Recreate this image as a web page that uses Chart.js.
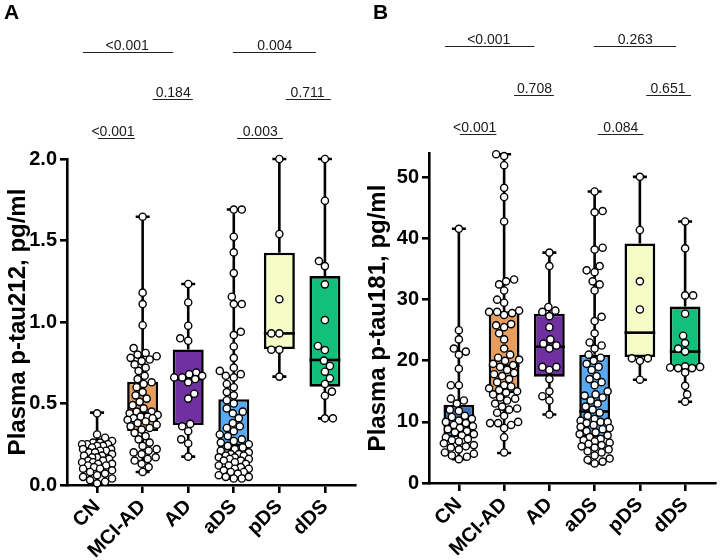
<!DOCTYPE html>
<html><head><meta charset="utf-8">
<script src="https://cdn.jsdelivr.net/npm/chart.js@4.4.1/dist/chart.umd.min.js"></script>
<style>
html,body{margin:0;padding:0;background:#fff;}
#wrap{position:relative;width:720px;height:560px;overflow:hidden;background:#fff;}
.p{position:absolute;top:0;width:360px;height:560px;}
</style></head>
<body>
<div id="wrap">
  <div class="p" style="left:0"><canvas id="cA" width="360" height="560"></canvas></div>
  <div class="p" style="left:360px"><canvas id="cB" width="360" height="560"></canvas></div>
</div>
<script>
// ---------- DATA ----------
const categories = ['CN','MCI-AD','AD','aDS','pDS','dDS'];

// Panel A: plasma p-tau212 (pg/ml), individual points
const tau212_CN = [0.44,0.31,0.29,0.27,0.26,0.26,0.25,0.25,0.25,0.24,0.24,0.23,0.22,0.22,0.21,0.21,0.20,0.20,0.19,0.18,0.18,0.17,0.17,0.16,0.15,0.15,0.14,0.14,0.13,0.13,0.12,0.12,0.11,0.10,0.10,0.09,0.08,0.07,0.06,0.05,0.04,0.03,0.02,0.01];
const tau212_MCI = [1.646,1.18,1.11,0.98,0.84,0.81,0.80,0.79,0.78,0.77,0.76,0.74,0.72,0.70,0.67,0.65,0.63,0.62,0.60,0.57,0.55,0.53,0.51,0.49,0.47,0.45,0.45,0.44,0.43,0.42,0.42,0.41,0.41,0.40,0.39,0.38,0.37,0.36,0.35,0.34,0.32,0.30,0.28,0.26,0.24,0.22,0.21,0.20,0.19,0.17,0.16,0.15,0.13,0.11,0.08];
const tau212_AD = [1.233,1.12,0.977,0.90,0.885,0.69,0.68,0.67,0.66,0.66,0.65,0.63,0.56,0.53,0.375,0.36,0.33,0.28,0.255,0.174];
const tau212_aDS = [1.69,1.69,1.523,1.427,1.30,1.155,1.11,1.11,0.94,0.92,0.85,0.78,0.72,0.70,0.68,0.67,0.66,0.62,0.60,0.57,0.55,0.52,0.50,0.47,0.45,0.44,0.41,0.38,0.36,0.35,0.33,0.31,0.30,0.28,0.27,0.26,0.25,0.24,0.23,0.22,0.21,0.20,0.19,0.19,0.18,0.18,0.17,0.17,0.16,0.16,0.15,0.15,0.14,0.13,0.12,0.12,0.11,0.10,0.10,0.09,0.08,0.08,0.07,0.06,0.05,0.05,0.04,0.04];
const tau212_pDS = [2.0,1.54,1.14,0.93,0.93,0.83,0.83,0.665];
const tau212_dDS = [2.0,1.744,1.374,1.343,1.231,1.012,0.853,0.828,0.763,0.73,0.695,0.655,0.62,0.573,0.548,0.409,0.409];

// Panel A box statistics
const tau212_min    = [0.01, 0.08, 0.174, 0.04, 0.665, 0.409];
const tau212_q1     = [0.13, 0.331, 0.368, 0.21, 0.834, 0.603];
const tau212_median = [0.20, 0.44, 0.65, 0.245, 0.93, 0.767];
const tau212_q3     = [0.24, 0.634, 0.832, 0.526, 1.425, 1.282];
const tau212_max    = [0.444, 1.646, 1.233, 1.69, 2.0, 2.0];

// Panel B: plasma p-tau181 (pg/ml), individual points
const tau181_CN = [41.6,25.0,23.5,22.0,21.5,21.0,18.7,16.0,16.0,13.8,13.5,13.0,12.0,11.8,11.0,10.8,10.5,10.2,10.0,9.8,9.5,9.3,9.0,8.8,8.5,8.3,8.0,7.8,7.5,7.2,7.0,6.8,6.5,6.2,6.0,5.8,5.5,5.0,4.8,4.5,4.3,3.9];
const tau181_MCI = [53.8,53.5,52.0,48.3,46.8,42.8,33.3,33.0,32.5,31.5,30.0,29.5,28.2,28.0,28.0,27.8,27.5,26.0,25.8,25.5,24.5,23.5,22.0,21.0,20.5,20.2,20.0,19.5,19.3,19.0,18.5,18.0,17.8,17.5,17.0,16.5,16.0,15.8,15.5,15.2,15.0,14.8,14.5,14.0,13.8,13.5,13.0,12.5,12.2,12.0,11.5,11.0,10.0,9.8,9.8,9.5,9.0,7.5,5.0];
const tau181_AD = [37.7,35.5,28.8,28.2,28.0,27.3,25.5,23.5,22.8,22.5,22.0,19.0,19.0,18.5,17.0,15.0,14.2,13.5,11.2];
const tau181_aDS = [47.7,44.5,44.3,38.5,38.2,35.5,34.8,34.5,33.0,32.5,31.5,27.2,26.5,24.5,23.0,22.5,22.0,21.0,20.5,20.0,19.5,19.0,18.5,17.5,17.0,16.5,16.0,15.0,14.5,14.3,14.0,13.5,13.0,12.5,12.0,11.5,11.0,10.5,10.2,10.0,10.0,9.8,9.5,9.2,9.0,8.8,8.5,8.3,8.0,7.8,7.5,7.2,7.0,6.8,6.6,6.4,6.2,6.0,5.8,5.5,5.2,5.0,4.5,4.0,3.8,3.5,3.2];
const tau181_pDS = [50.1,41.4,33.0,28.4,20.4,20.0,20.4,16.9];
const tau181_dDS = [42.8,38.4,30.7,30.7,27.7,24.1,22.9,22.0,21.5,19.1,19.0,18.9,18.8,18.8,18.1,15.9,14.5,13.3];

// Panel B box statistics
const tau181_min    = [3.9, 4.9, 11.2, 3.2, 16.9, 13.3];
const tau181_q1     = [7.5, 14.7, 17.4, 7.5, 20.6, 18.9];
const tau181_median = [9.5, 19.2, 22.3, 11.7, 24.6, 21.5];
const tau181_q3     = [12.8, 28.1, 27.7, 21.0, 39.2, 28.9];
const tau181_max    = [41.6, 53.8, 37.7, 47.7, 50.1, 42.8];

// p-value labels (top row, middle row, bottom row; left then right)
const pValuesA = ['<0.001','0.004','0.184','0.711','<0.001','0.003'];
const pValuesB = ['<0.001','0.263','0.708','0.651','<0.001','0.084'];

// ---------- STYLE / LAYOUT ----------
const FONT = "'Liberation Sans', Arial, Helvetica, sans-serif";
const colorsA = ['#3a7fd0','#e69d5e','#7030a0','#58a9f3','#f5fcc6','#12c07c'];
const colorsB = ['#3b6fb6','#e69d5e','#7030a0','#58a9f3','#f5fcc6','#12c07c'];

// bracket geometry in category units
const bracketFrom = [-0.31, 2.98, 1.22, 4.14, 0.02, 3.07];
const bracketTo   = [ 1.67, 4.80, 2.10, 5.13, 0.83, 4.08];
const bracketText = [ 0.66, 3.90, 1.67, 4.62, 0.35, 3.58];
const bracketRow  = [0,0,1,1,2,2];

// deterministic beeswarm in pixel space
function swarm(pys, d, cap){
  const idx = pys.map((_,i)=>i).sort((a,b)=>pys[b]-pys[a]);
  const placed=[]; const out=new Array(pys.length).fill(0);
  idx.forEach((i,n)=>{
    const py=pys[i];
    const near=placed.filter(p=>Math.abs(p.y-py)<d);
    let best=0, bestScore=-1;
    const sgn = (n%2)?1:-1;
    for(let s=0;s<=cap*2;s++){
      const c = s===0?0:sgn*(s%2?1:-1)*Math.ceil(s/2);
      let md=Infinity;
      near.forEach(p=>{const dd=Math.hypot(p.x-c,p.y-py); if(dd<md) md=dd;});
      if(md>=d){best=c;bestScore=Infinity;break;}
      if(md>bestScore+0.3){bestScore=md;best=c;}
    }
    out[i]=best; placed.push({x:best,y:py});
  });
  return out;
}

const boxPlugin = {
  id:'boxes',
  beforeDatasetsDraw(chart){
    const o = chart.options.plugins.boxes;
    const {ctx, scales:{x,y}} = chart;
    ctx.save(); ctx.strokeStyle='#000'; ctx.lineWidth=2.6; ctx.lineCap='butt';
    o.min.forEach((mn,i)=>{
      const px=x.getPixelForValue(i);
      const yMin=y.getPixelForValue(mn), yQ1=y.getPixelForValue(o.q1[i]),
            yQ3=y.getPixelForValue(o.q3[i]), yMax=y.getPixelForValue(o.max[i]);
      ctx.beginPath();
      ctx.moveTo(px,yMin); ctx.lineTo(px,yQ1);
      ctx.moveTo(px,yQ3); ctx.lineTo(px,yMax);
      ctx.moveTo(px-7,yMin); ctx.lineTo(px+7,yMin);
      ctx.moveTo(px-7,yMax); ctx.lineTo(px+7,yMax);
      ctx.stroke();
    });
    ctx.restore();
  },
  beforeDatasetDraw(chart,args){
    if(args.index!==0) return;
    const o = chart.options.plugins.boxes;
    const {ctx, scales:{y}} = chart;
    const bars = chart.getDatasetMeta(1).data;
    ctx.save(); ctx.strokeStyle='#000'; ctx.lineWidth=2.6;
    o.median.forEach((m,i)=>{
      const el=bars[i]; const py=y.getPixelForValue(m);
      ctx.beginPath(); ctx.moveTo(el.x-el.width/2,py); ctx.lineTo(el.x+el.width/2,py); ctx.stroke();
    });
    ctx.restore();
  },
  afterDraw(chart){
    const o = chart.options.plugins.boxes;
    const {ctx, scales:{x}} = chart;
    ctx.save();
    ctx.fillStyle='#000'; ctx.font='bold 21px '+FONT; ctx.textAlign='left'; ctx.textBaseline='alphabetic';
    ctx.fillText(o.letter, o.letterX, 19);
    ctx.font='14px '+FONT; ctx.fillStyle='#1a1a1a'; ctx.textAlign='center';
    ctx.strokeStyle='#222'; ctx.lineWidth=1.1;
    o.labels.forEach((t,k)=>{
      const row=o.rows[bracketRow[k]];
      const x1=x.getPixelForValue(bracketFrom[k]), x2=x.getPixelForValue(bracketTo[k]);
      ctx.beginPath(); ctx.moveTo(x1,row+0.5); ctx.lineTo(x2,row+0.5); ctx.stroke();
      ctx.fillText(t, x.getPixelForValue(bracketText[k]), row-2);
    });
    ctx.restore();
  }
};

function makeChart(id, groups, stats, colors, cfg){
  const pts=[]; groups.forEach((g,i)=>g.forEach(v=>pts.push({x:i,y:v})));
  const chart = new Chart(document.getElementById(id), {
    type:'bar',
    data:{datasets:[
      {type:'scatter', data:pts, order:0, pointRadius:3.6, pointHoverRadius:3.6,
       backgroundColor:'#fff', borderColor:'#000', borderWidth:1.4, clip:false},
      {type:'bar', data:stats.q1.map((q,i)=>({x:i, y:[q, stats.q3[i]]})), order:1,
       backgroundColor:colors, borderColor:'#000', borderWidth:2.6, borderSkipped:false,
       categoryPercentage:1, barPercentage:0.68}
    ]},
    options:{
      responsive:false, animation:false, events:[],
      layout:{padding:{top:cfg.top, right:cfg.right, left:0, bottom:0}},
      plugins:{legend:{display:false}, tooltip:{enabled:false},
        boxes:{min:stats.min,q1:stats.q1,median:stats.median,q3:stats.q3,max:stats.max,
               labels:cfg.labels, rows:cfg.rows, letter:cfg.letter, letterX:cfg.letterX}},
      scales:{
        x:{type:'linear', min:-0.66, max:5.66, offset:false,
           afterBuildTicks:(s)=>{s.ticks=categories.map((c,i)=>({value:i}));},
           afterFit:(s)=>{s.height=cfg.xh;},
           border:{display:true,color:'#000',width:2.6},
           grid:{display:true,offset:false,drawOnChartArea:false,drawTicks:true,tickLength:8,color:'#000',lineWidth:2.6},
           ticks:{autoSkip:false,maxRotation:45,minRotation:45,padding:2,color:'#000',
                  font:{family:FONT,size:20,weight:'bold'},
                  callback:(v)=>categories[v]}},
        y:{type:'linear', min:0, max:cfg.ymax,
           afterFit:(s)=>{s.width=cfg.yw;},
           border:{display:true,color:'#000',width:2.6},
           grid:{display:true,drawOnChartArea:false,drawTicks:true,tickLength:7,color:'#000',lineWidth:2.6},
           ticks:{stepSize:cfg.step,includeBounds:false,padding:3,color:'#000',
                  font:{family:FONT,size:20,weight:'bold'},
                  callback:cfg.fmt},
           title:{display:true,text:cfg.title,color:'#000',padding:{top:4,bottom:2},
                  font:{family:FONT,size:24,weight:'bold'}}}
      }
    },
    plugins:[boxPlugin]
  });
  // beeswarm spread of points computed through the chart's own scales
  const xs=chart.scales.x, ys=chart.scales.y; const out=[];
  groups.forEach((g,i)=>{
    const pys=g.map(v=>ys.getPixelForValue(v));
    const dx=swarm(pys, 7.5, 15);
    const cx=xs.getPixelForValue(i);
    g.forEach((v,k)=>out.push({x:xs.getValueForPixel(cx+dx[k]), y:v}));
  });
  chart.data.datasets[0].data=out;
  chart.update('none');
  return chart;
}

makeChart('cA',
  [tau212_CN,tau212_MCI,tau212_AD,tau212_aDS,tau212_pDS,tau212_dDS],
  {min:tau212_min,q1:tau212_q1,median:tau212_median,q3:tau212_q3,max:tau212_max},
  colorsA,
  {top:159,right:2,xh:75,yw:67,ymax:2.0,step:0.5,fmt:(v)=>v.toFixed(1),
   title:'Plasma p-tau212, pg/ml',labels:pValuesA,rows:[52,99,138],letter:'A',letterX:4});

makeChart('cB',
  [tau181_CN,tau181_MCI,tau181_AD,tau181_aDS,tau181_pDS,tau181_dDS],
  {min:tau181_min,q1:tau181_q1,median:tau181_median,q3:tau181_q3,max:tau181_max},
  colorsB,
  {top:153,right:0,xh:77,yw:69,ymax:54,step:10,fmt:(v)=>String(v),
   title:'Plasma p-tau181, pg/ml',labels:pValuesB,rows:[46,95,134],letter:'B',letterX:13});
</script>
</body></html>
